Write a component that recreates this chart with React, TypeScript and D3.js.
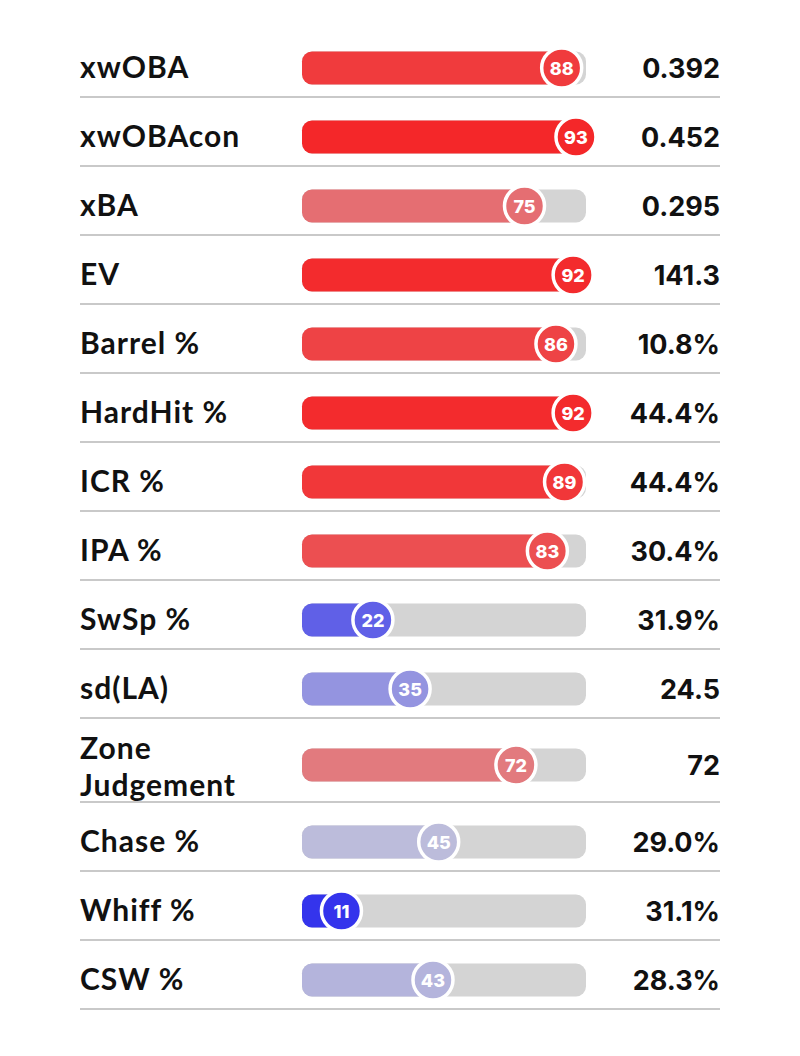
import React from "react";
import * as d3 from "d3";

const metrics = ["xwOBA", "xwOBAcon", "xBA", "EV", "Barrel %", "HardHit %", "ICR %", "IPA %", "SwSp %", "sd(LA)", "Zone\nJudgement", "Chase %", "Whiff %", "CSW %"];
const percentiles = [88, 93, 75, 92, 86, 92, 89, 83, 22, 35, 72, 45, 11, 43];
const statValues = ["0.392", "0.452", "0.295", "141.3", "10.8%", "44.4%", "44.4%", "30.4%", "31.9%", "24.5", "72", "29.0%", "31.1%", "28.3%"];

const W = 800;
const H = 1056;
const LEFT = 80;
const RIGHT = 720;
const TRACK_X0 = 302;
const TRACK_X1 = 586;
const BAR_H = 33;
const R = 20;

export default function App() {
  const x = d3.scaleLinear().domain([0, 100]).range([310, 596]);
  const color = d3
    .scaleLinear<string>()
    .domain([0, 50, 100])
    .range(["#0808f2", "#d0d0d8", "#fa0c0c"])
    .interpolate(d3.interpolateRgb);

  let top = 28;
  const rows = metrics.map((m, i) => {
    const multi = m.includes("\n");
    const h = multi ? 84 : 69;
    const cy = top + (multi ? 47 : 40);
    const bottom = top + h;
    const r = { m, i, cy, bottom, multi, top };
    top = bottom;
    return r;
  });

  return (
    <svg width={W} height={H} style={{ display: "block", position: "absolute", left: 0, top: 0, background: "#fff" }}>
      <rect width={W} height={H} fill="#fff" />
      {rows.map(({ m, i, cy, bottom, multi }) => {
        const v = percentiles[i];
        const cx = x(v);
        const c = color(v);
        const lines = m.split("\n");
        return (
          <g key={i}>
            <line x1={LEFT} x2={RIGHT} y1={bottom} y2={bottom} stroke="#c9c9c9" strokeWidth={2} />
            {lines.map((ln, k) => (
              <text
                key={k}
                x={LEFT}
                y={multi ? cy - 6 + k * 37 : cy + 10}
                fontFamily="Lato, sans-serif"
                fontWeight={700}
                fontSize={30}
                letterSpacing={1}
                fill="#111"
              >
                {ln}
              </text>
            ))}
            <rect x={TRACK_X0} y={cy - BAR_H / 2} width={TRACK_X1 - TRACK_X0} height={BAR_H} rx={10} fill="#d4d4d4" />
            <rect x={TRACK_X0} y={cy - BAR_H / 2} width={cx - TRACK_X0} height={BAR_H} rx={10} fill={c} />
            <circle cx={cx} cy={cy} r={R} fill={c} stroke="#fff" strokeWidth={3.5} />
            <text
              x={cx}
              y={cy + 6.5}
              textAnchor="middle"
              fontFamily="Inter, 'Open Sans', sans-serif"
              fontWeight={800}
              fontSize={18}
              fill="#fff"
            >
              {v}
            </text>
            <text
              x={RIGHT}
              y={cy + 10}
              textAnchor="end"
              fontFamily="Inter, 'Open Sans', sans-serif"
              fontWeight={700}
              fontSize={27}
              fill="#111"
            >
              {statValues[i]}
            </text>
          </g>
        );
      })}
    </svg>
  );
}
